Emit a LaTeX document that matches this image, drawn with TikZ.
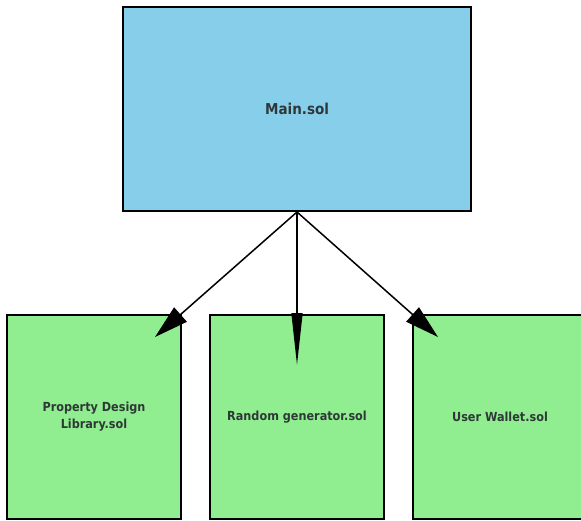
\documentclass[tikz,border=0pt]{standalone}
\usepackage{fontspec}
\setmainfont{DejaVu Sans Condensed}[BoldFont={DejaVu Sans Condensed Bold}]
\usetikzlibrary{arrows.meta}
\definecolor{mainfill}{HTML}{87CEEB}
\definecolor{subfill}{HTML}{90EE90}
\definecolor{txtdark}{HTML}{2E3838}
\tikzset{
  box/.style={draw=black, line width=2pt, rectangle, inner sep=0pt, text=txtdark, font=\bfseries, align=center},
  mainbox/.style={box, fill=mainfill, minimum width=348pt, minimum height=204pt, font=\bfseries\fontsize{15}{18}\selectfont},
  subbox/.style={box, fill=subfill, minimum width=174pt, minimum height=204pt, font=\bfseries\fontsize{12.5}{17}\selectfont},
  conn/.style={line width=1.5pt, draw=black},
  sidetip/.style={-{Triangle[length=34pt,width=19pt]}},
  midtip/.style={-{Triangle[length=52pt,width=11pt]}}
}
\begin{document}
\begin{tikzpicture}[x=1pt,y=-1pt]
\clip (0,0) rectangle (581,520);
\fill[white] (0,0) rectangle (581,520);
\node[mainbox] (main) at (297,109) {Main.sol};
\node[subbox] (lib) at (94,417) {Property Design\\Library.sol};
\node[subbox] (rnd) at (297,417) {Random generator.sol};
\node[subbox] (wal) at (500,417) {User Wallet.sol};
\coordinate (tipl) at (155,337);
\coordinate (tipm) at (297,365);
\coordinate (tipr) at (438,337);
\draw[conn, sidetip] (main.south) -- (tipl);
\draw[conn, midtip] (main.south) -- (tipm);
\draw[conn, sidetip] (main.south) -- (tipr);
\end{tikzpicture}
\end{document}
